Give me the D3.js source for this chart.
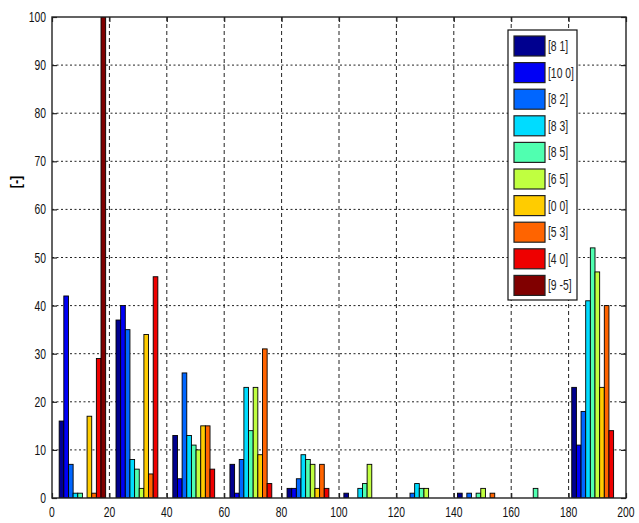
<!DOCTYPE html>
<html><head><meta charset="utf-8">
<script src="https://cdn.jsdelivr.net/npm/d3@7"></script>
<style>
body{margin:0;background:#fff;}
text{font-family:"Liberation Sans",Arial,sans-serif;}
</style></head>
<body><svg id="c" width="639" height="523"></svg>
<script>
// ---- data ----
const groupX = [10.6, 30.4, 50.2, 70.1, 90.0, 109.8, 129.6, 149.4, 169.3, 189.2];
const seriesNames = ["[8 1]","[10 0]","[8 2]","[8 3]","[8 5]","[6 5]","[0 0]","[5 3]","[4 0]","[9 -5]"];
const seriesColors = ["#00008f","#0000f5","#0066ff","#00dcff","#50ffb0","#c0ff40","#ffcc00","#ff6400","#ee0000","#800000"];
const s81  = [16, 37, 13,  7, 2, 1, 0, 1, 0, 23];
const s100 = [42, 40,  4,  1, 2, 0, 0, 0, 0, 11];
const s82  = [ 7, 35, 26,  8, 4, 0, 1, 1, 0, 18];
const s83  = [ 1,  8, 13, 23, 9, 2, 3, 0, 0, 41];
const s85  = [ 1,  6, 11, 14, 8, 3, 2, 1, 2, 52];
const s65  = [ 0,  2, 10, 23, 7, 7, 2, 2, 0, 47];
const s00  = [17, 34, 15,  9, 2, 0, 0, 0, 0, 23];
const s53  = [ 1,  5, 15, 31, 7, 0, 0, 1, 0, 40];
const s40  = [29, 46,  6,  3, 2, 0, 0, 0, 0, 14];
const s95  = [100, 0,  0,  0, 0, 0, 0, 0, 0,  0];
const seriesValues = [s81,s100,s82,s83,s85,s65,s00,s53,s40,s95];
const xTicks = d3.range(0, 201, 20);
const yTicks = d3.range(0, 101, 10);

// ---- layout ----
const M = {left:52, top:17, right:626, bottom:498};
const barW = 1.62; // data units
const SX = 0.74;   // horizontal squeeze of text (narrow font look)
const svg = d3.select("#c");
const x = d3.scaleLinear().domain([0,200]).range([M.left, M.right]);
const y = d3.scaleLinear().domain([0,100]).range([M.bottom, M.top]);

// grid
const g = svg.append("g");
g.selectAll(".hg").data(yTicks.slice(1,-1)).enter().append("line")
  .attr("x1",M.left).attr("x2",M.right).attr("y1",d=>y(d)).attr("y2",d=>y(d))
  .attr("stroke","#222").attr("stroke-width",1).attr("stroke-dasharray","2,2.5");
g.selectAll(".vg").data(xTicks.slice(1,-1)).enter().append("line")
  .attr("y1",M.top).attr("y2",M.bottom).attr("x1",d=>x(d)).attr("x2",d=>x(d))
  .attr("stroke","#222").attr("stroke-width",1).attr("stroke-dasharray","4,3");

// bars
svg.append("clipPath").attr("id","cp").append("rect")
  .attr("x",M.left).attr("y",M.top).attr("width",M.right-M.left).attr("height",M.bottom-M.top);
const bars = svg.append("g").attr("clip-path","url(#cp)");
seriesValues.forEach((vals,si)=>{
  bars.selectAll(null).data(vals.map((v,gi)=>({v,gi}))).enter()
    .filter(d=>d.v>0).append("rect")
    .attr("x",d=>x(groupX[d.gi] + (si-5)*barW))
    .attr("width",d=>x(barW)-x(0))
    .attr("y",d=>y(d.v))
    .attr("height",d=>y(0)-y(d.v))
    .attr("fill",seriesColors[si])
    .attr("stroke","#000").attr("stroke-width",0.9);
});

// axes frame with inward ticks
const xb = d3.axisBottom(x).tickValues(xTicks).tickSize(-5).tickFormat("");
const xt = d3.axisTop(x).tickValues(xTicks).tickSize(-5).tickFormat("");
const yl = d3.axisLeft(y).tickValues(yTicks).tickSize(-5).tickFormat("");
const yr = d3.axisRight(y).tickValues(yTicks).tickSize(-5).tickFormat("");
function style(sel){
  sel.selectAll("line").attr("stroke","#222").attr("stroke-width",1.2);
  sel.select(".domain").remove();
}
style(svg.append("g").attr("transform",`translate(0,${M.bottom})`).call(xb));
style(svg.append("g").attr("transform",`translate(0,${M.top})`).call(xt));
style(svg.append("g").attr("transform",`translate(${M.left},0)`).call(yl));
style(svg.append("g").attr("transform",`translate(${M.right},0)`).call(yr));
svg.append("rect").attr("x",M.left).attr("y",M.top).attr("width",M.right-M.left).attr("height",M.bottom-M.top)
  .attr("fill","none").attr("stroke","#222").attr("stroke-width",1.4);

// tick labels (narrow)
svg.append("g").selectAll("text").data(xTicks).enter().append("text")
  .attr("transform",d=>`translate(${x(d)},${M.bottom+19}) scale(${SX},1)`)
  .attr("text-anchor","middle").style("font-size","14px").attr("fill","#111").text(d=>d);
svg.append("g").selectAll("text").data(yTicks).enter().append("text")
  .attr("transform",d=>`translate(${M.left-6},${y(d)+5}) scale(${SX},1)`)
  .attr("text-anchor","end").style("font-size","14px").attr("fill","#111").text(d=>d);

// y label
svg.append("text").attr("transform","translate(21,182) rotate(-90) scale(0.9,1)")
  .attr("text-anchor","middle").attr("font-weight","bold").style("font-size","14px").text("[-]");

// legend
const L = {x:508, y:30, w:69, h:270};
const leg = svg.append("g");
leg.append("rect").attr("x",L.x).attr("y",L.y).attr("width",L.w).attr("height",L.h)
  .attr("fill","#fff").attr("stroke","#111").attr("stroke-width",1.2);
const items = leg.selectAll(".it").data(seriesNames).enter().append("g")
  .attr("transform",(d,i)=>`translate(${L.x+6},${L.y+6+i*26.6})`);
items.append("rect").attr("width",31).attr("height",20)
  .attr("fill",(d,i)=>seriesColors[i]).attr("stroke","#222").attr("stroke-width",1.2);
items.append("text").attr("transform",`translate(34,15) scale(${SX},1)`)
  .style("font-size","14px").attr("fill","#222").text(d=>d);
</script></body></html>
